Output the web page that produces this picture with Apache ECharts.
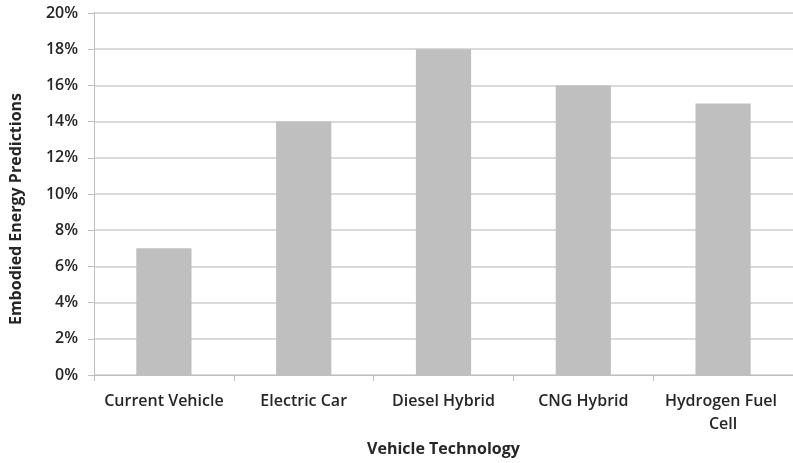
<!DOCTYPE html>
<html lang="en">
<head>
    <meta charset="UTF-8">
    <title>Embodied Energy Predictions</title>
    <style>
        html, body { margin: 0; padding: 0; background: #fff; }
    </style>
</head>
<body>
<div id="main" style="width: 793px;height:463px;"></div>
<script src="https://cdn.jsdelivr.net/npm/echarts@6.0.0/dist/echarts.min.js"></script>
<script>

let categories = ['Current Vehicle', 'Electric Car', 'Diesel Hybrid', 'CNG Hybrid', 'Hydrogen Fuel Cell']
let values = [7, 14, 18, 16, 15]
let yTicks = [0, 2, 4, 6, 8, 10, 12, 14, 16, 18, 20]

const FONT = '"Open Sans", "Noto Sans", sans-serif'
const TEXT_COLOR = '#262626'

let myChart = echarts.init(document.getElementById('main'))

let option = {
    animation: false,
    grid: {
        left: 93,
        right: -8,
        top: 13,
        bottom: 88
    },
    xAxis: {
        type: 'category',
        data: categories,
        name: 'Vehicle Technology',
        nameLocation: 'middle',
        nameGap: 66,
        nameTextStyle: {
            fontFamily: FONT,
            fontSize: 16,
            fontWeight: 'bold',
            color: TEXT_COLOR
        },
        axisLine: { lineStyle: { color: '#bfbfbf', width: 1 } },
        axisTick: { show: true, length: 6, lineStyle: { color: '#bfbfbf' } },
        axisLabel: {
            fontFamily: FONT,
            fontSize: 16,
            fontWeight: 600,
            color: TEXT_COLOR,
            margin: 15,
            width: 135,
            overflow: 'break',
            lineHeight: 23,
            interval: 0
        }
    },
    yAxis: {
        type: 'value',
        min: 0,
        max: 20,
        interval: 2,
        name: 'Embodied Energy Predictions',
        nameLocation: 'middle',
        nameGap: 70,
        nameTextStyle: {
            fontFamily: FONT,
            fontSize: 16,
            fontWeight: 'bold',
            color: TEXT_COLOR,
            padding: [0, 30, 0, 0]
        },
        axisLine: { show: true, lineStyle: { color: '#bfbfbf', width: 1 } },
        axisTick: { show: true, length: 6, lineStyle: { color: '#bfbfbf' } },
        axisLabel: {
            fontFamily: FONT,
            fontSize: 16,
            fontWeight: 600,
            color: TEXT_COLOR,
            margin: 16,
            formatter: v => yTicks.includes(v) ? v + '%' : ''
        },
        splitLine: { lineStyle: { color: '#d9d9d9', width: 2 } }
    },
    series: [{
        type: 'bar',
        data: values,
        barWidth: '39.5%',
        itemStyle: { color: '#bfbfbf' }
    }]
}

myChart.setOption(option)

</script>
</body>
</html>
